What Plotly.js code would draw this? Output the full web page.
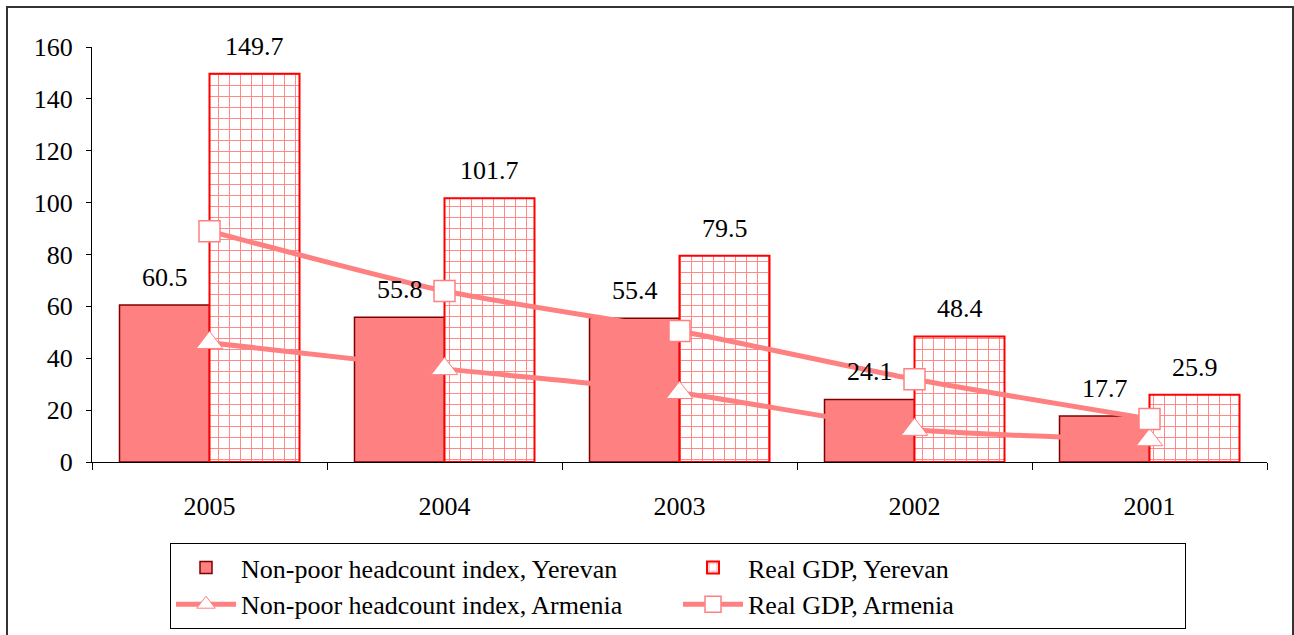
<!DOCTYPE html>
<html>
<head>
<meta charset="utf-8">
<script src="https://cdn.plot.ly/plotly-3.0.1.min.js"></script>
<style>
html,body{margin:0;padding:0;background:#fff;}
#chart{width:1294px;height:635px;}
</style>
</head>
<body>
<div id="chart"></div>
<script>
// ---- data ----
var years = ["2005", "2004", "2003", "2002", "2001"];
var nonPoorYerevan = [60.5, 55.8, 55.4, 24.1, 17.7];
var realGdpYerevan = [149.7, 101.7, 79.5, 48.4, 25.9];
var nonPoorArmenia = [46.0, 35.9, 26.7, 12.5, 8.5];
var realGdpArmenia = [89.0, 65.9, 50.5, 31.9, 16.6];
var seriesNames = [
  "Non-poor headcount index, Yerevan",
  "Real GDP, Yerevan",
  "Non-poor headcount index, Armenia",
  "Real GDP, Armenia"
];

var W = 1294, H = 635;
var M = {l: 92, r: 27, t: 47, b: 173, autoexpand: false};
var plotW = W - M.l - M.r, plotH = H - M.t - M.b;
var FONT = "Liberation Serif";
var PINK = "#FF8080";

function px2paperX(px) { return (px - M.l) / plotW; }
function px2paperY(py) { return (H - M.b - py) / plotH; }

var traces = [
  {
    type: "bar", name: seriesNames[0], x: years, y: nonPoorYerevan,
    marker: {color: PINK, line: {color: "#800000", width: 1.5}},
    hoverinfo: "y"
  },
  {
    type: "bar", name: seriesNames[1], x: years, y: realGdpYerevan,
    marker: {
      color: "#FFFFFF",
      line: {color: "#FF0000", width: 2},
      pattern: {shape: "+", fgcolor: PINK, bgcolor: "#FFFFFF", size: 11, solidity: 0.16, fillmode: "replace"}
    },
    hoverinfo: "y"
  },
  {
    type: "scatter", mode: "lines+markers", name: seriesNames[2], x: years, y: nonPoorArmenia,
    line: {color: PINK, width: 5, shape: "spline", smoothing: 0.6},
    marker: {symbol: "triangle-up", size: 23, color: "#FFFFFF", line: {color: PINK, width: 1}}
  },
  {
    type: "scatter", mode: "lines+markers", name: seriesNames[3], x: years, y: realGdpArmenia,
    line: {color: PINK, width: 5, shape: "spline", smoothing: 0.6},
    marker: {symbol: "square", size: 21, color: "#FFFFFF", line: {color: PINK, width: 1.5}}
  }
];

var annotations = [];
years.forEach(function (yr, i) {
  annotations.push({
    x: i, y: nonPoorYerevan[i], xref: "x", yref: "y",
    text: nonPoorYerevan[i].toFixed(1), showarrow: false,
    xanchor: "center", yanchor: "bottom", xshift: -45, yshift: 11,
    font: {family: FONT, size: 26, color: "#000"}
  });
  annotations.push({
    x: i, y: realGdpYerevan[i], xref: "x", yref: "y",
    text: realGdpYerevan[i].toFixed(1), showarrow: false,
    xanchor: "center", yanchor: "bottom", xshift: 45, yshift: 11,
    font: {family: FONT, size: 26, color: "#000"}
  });
});

var layout = {
  width: W, height: H,
  margin: M,
  paper_bgcolor: "#FFFFFF",
  plot_bgcolor: "#FFFFFF",
  font: {family: FONT, size: 25, color: "#000"},
  barmode: "group",
  bargap: 0.234,
  bargroupgap: 0,
  showlegend: true,
  xaxis: {
    type: "category",
    categoryorder: "array", categoryarray: years,
    range: [-0.5, years.length - 0.5],
    showgrid: false, zeroline: false,
    showline: true, linecolor: "#000", linewidth: 1,
    ticks: "outside", tickson: "boundaries", ticklen: 7, tickcolor: "#000",
    tickangle: 0,
    ticklabelstandoff: 21,
    tickfont: {family: FONT, size: 26, color: "#000"}
  },
  yaxis: {
    range: [0, 160], dtick: 20, tick0: 0,
    showgrid: false, zeroline: false,
    showline: true, linecolor: "#000", linewidth: 1,
    ticks: "outside", ticklen: 5, tickcolor: "#000",
    ticklabelstandoff: 8,
    tickfont: {family: FONT, size: 26, color: "#000"}
  },
  legend: {
    orientation: "h",
    x: px2paperX(170), xanchor: "left",
    y: px2paperY(543), yanchor: "top",
    bgcolor: "#FFFFFF", bordercolor: "#000", borderwidth: 1,
    itemwidth: 60,
    entrywidth: 432, entrywidthmode: "pixels",
    font: {family: FONT, size: 26, color: "#000"},
    traceorder: "normal"
  },
  annotations: annotations,
  shapes: [{
    type: "rect", xref: "paper", yref: "paper", layer: "below",
    x0: px2paperX(7), x1: px2paperX(1293),
    y0: px2paperY(645), y1: px2paperY(7),
    line: {color: "#333", width: 2}, fillcolor: "rgba(0,0,0,0)"
  }]
};

Plotly.newPlot("chart", traces, layout, {displayModeBar: false, staticPlot: true});
</script>
</body>
</html>
